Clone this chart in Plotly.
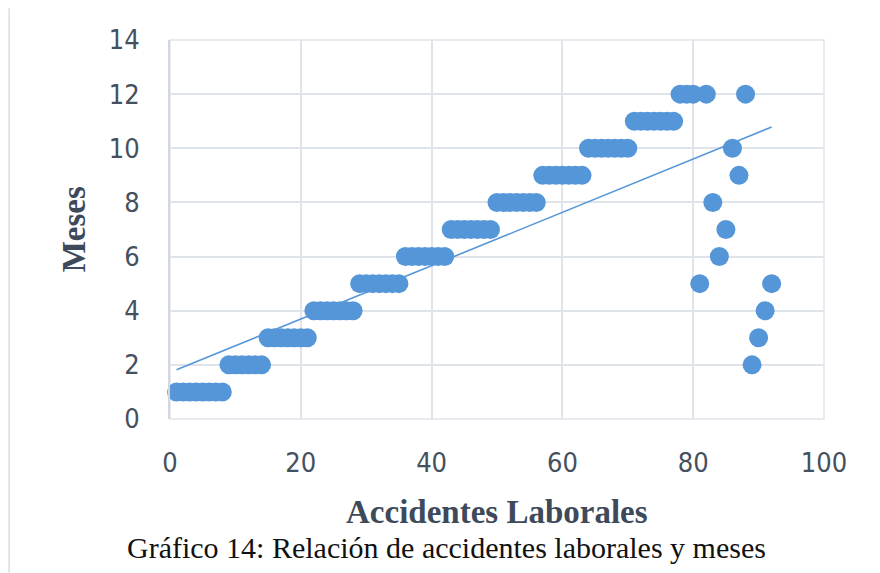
import numpy as np
import plotly.graph_objects as go

# Data: accident number (x) and month (y)
accidentes = list(range(1, 93))
meses = ([1] * 8 + [2] * 6 + [3] * 7 + [4] * 7 + [5] * 7 + [6] * 7 + [7] * 7 +
         [8] * 7 + [9] * 7 + [10] * 7 + [11] * 7 + [12] * 3 +
         [5, 12, 8, 6, 7, 10, 9, 12, 2, 3, 4, 5])

x_ticks = [0, 20, 40, 60, 80, 100]
y_ticks = [0, 2, 4, 6, 8, 10, 12, 14]

# Linear trend line (least squares) from the data
slope, intercept = np.polyfit(accidentes, meses, 1)
tx = [min(accidentes), max(accidentes)]
ty = [slope * v + intercept for v in tx]

blue = "#5596d8"
tick_col = "#44505e"
title_col = "#3e4a5a"
serif = "Liberation Serif, Times New Roman, serif"

fig = go.Figure()
fig.add_trace(go.Scatter(
    x=accidentes, y=meses, mode="markers",
    marker=dict(size=19, color=blue, line=dict(width=0)),
    cliponaxis=False, showlegend=False, hoverinfo="x+y"))
fig.add_trace(go.Scatter(
    x=tx, y=ty, mode="lines",
    line=dict(color=blue, width=1.6),
    showlegend=False, hoverinfo="skip"))

fig.update_layout(
    width=872, height=565,
    margin=dict(l=162, r=56, t=32, b=154),
    paper_bgcolor="white", plot_bgcolor="white",
    font=dict(family="DejaVu Sans Condensed, DejaVu Sans, sans-serif",
              size=27, color=tick_col),
    xaxis=dict(range=[0, 100], tickvals=x_ticks, showgrid=True,
               gridcolor="#dfe3ea", gridwidth=1.5, zeroline=False,
               showline=False, ticks="outside", ticklen=20,
               tickcolor="rgba(0,0,0,0)"),
    yaxis=dict(range=[0, 14], tickvals=y_ticks, showgrid=True,
               gridcolor="#dfe3ea", gridwidth=1.5, zeroline=False,
               showline=True, linecolor="#d3d8e0", linewidth=2,
               ticks="outside", ticklen=23, tickcolor="rgba(0,0,0,0)"),
    shapes=[
        dict(type="line", xref="paper", yref="paper",
             x0=-0.246, x1=-0.246, y0=1.084, y1=-0.406,
             line=dict(color="#d9dde3", width=1.5)),
        dict(type="rect", xref="paper", yref="paper",
             x0=0, x1=1, y0=0, y1=1,
             line=dict(color="#dfe3ea", width=1.5), layer="below"),
    ],
    annotations=[
        dict(text="<b>Accidentes Laborales</b>",
             xref="paper", yref="paper", x=0.5, y=-0.245,
             xanchor="center", yanchor="middle", showarrow=False,
             font=dict(family=serif, size=33, color=title_col)),
        dict(text="<b>Meses</b>", textangle=-90,
             xref="paper", yref="paper", x=-0.147, y=0.5,
             xanchor="center", yanchor="middle", showarrow=False,
             font=dict(family=serif, size=33, color=title_col)),
        dict(text="Gráfico 14: Relación de accidentes laborales y meses",
             xref="paper", yref="paper", x=0.4235, y=-0.340,
             xanchor="center", yanchor="middle", showarrow=False,
             font=dict(family=serif, size=30, color="#111111")),
    ],
)

fig.write_html("out.html")
